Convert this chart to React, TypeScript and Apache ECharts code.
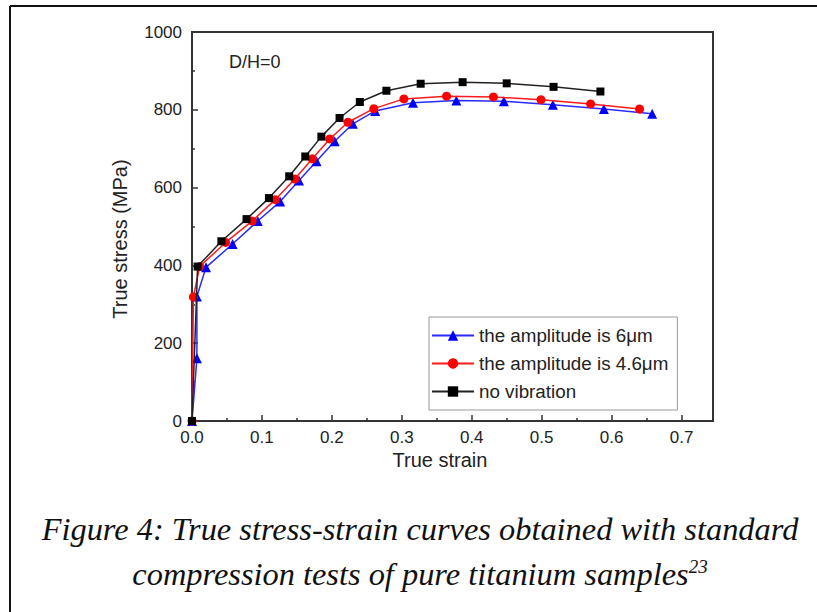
import React, { useEffect, useRef } from "react";
import * as echarts from "echarts";

// ---- data ----
const blueStrain = [0, 0.007, 0.007, 0.02, 0.058, 0.094, 0.126, 0.153, 0.178, 0.204, 0.23, 0.262, 0.316, 0.378, 0.446, 0.516, 0.589, 0.658];
const blueStress = [0, 161, 320, 395, 455, 514, 564, 618, 668, 719, 764, 797, 818, 824, 822, 813, 802, 790];

const redStrain = [0, 0.002, 0.011, 0.048, 0.086, 0.119, 0.147, 0.172, 0.197, 0.223, 0.26, 0.303, 0.364, 0.431, 0.499, 0.57, 0.64];
const redStress = [0, 319, 397, 459, 514, 569, 622, 674, 725, 768, 803, 828, 835, 833, 826, 815, 802];

const blackStrain = [0, 0.008, 0.042, 0.078, 0.11, 0.139, 0.162, 0.185, 0.211, 0.24, 0.278, 0.327, 0.387, 0.45, 0.517, 0.584];
const blackStress = [0, 397, 462, 519, 573, 629, 680, 731, 779, 820, 849, 867, 871, 868, 859, 847];

const seriesNames = ["the amplitude is 6\u03bcm", "the amplitude is 4.6\u03bcm", "no vibration"];
const annotation = "D/H=0";
const xAxisName = "True strain";
const yAxisName = "True stress (MPa)";
const captionLine1 = "Figure 4: True stress-strain curves obtained with standard";
const captionLine2 = "compression tests of pure titanium samples";
const captionSup = "23";

const pairs = (xs: number[], ys: number[]) => xs.map((x, i) => [x, ys[i]]);

const SANS = "Liberation Sans, Arial, sans-serif";
const SERIF = "Liberation Serif, Times New Roman, serif";

export default function App() {
  const ref = useRef<HTMLDivElement>(null);
  useEffect(() => {
    if (!ref.current) return;
    const chart = echarts.init(ref.current, undefined, { renderer: "svg" });
    const axisLine = { show: true, lineStyle: { color: "#333", width: 2 } };
    const axisTick = { show: true, inside: true, length: 6, lineStyle: { color: "#333", width: 1.5 } };
    const minorTick = { show: true, splitNumber: 2, length: 3, lineStyle: { color: "#333", width: 1.5 } };
    chart.setOption({
      animation: false,
      backgroundColor: "#fff",
      grid: {
        left: 192,
        top: 32,
        right: 104,
        bottom: 191,
        show: true,
        borderColor: "#333",
        borderWidth: 2,
        containLabel: false,
      },
      xAxis: {
        type: "value",
        min: 0,
        max: 0.745,
        interval: 0.1,
        axisLine,
        axisTick,
        minorTick,
        splitLine: { show: false },
        axisLabel: {
          fontFamily: SANS,
          fontSize: 17,
          color: "#222",
          margin: 8,
          showMaxLabel: false,
          formatter: (v: number) => {
            const r = Math.round(v * 10);
            return Math.abs(v * 10 - r) < 1e-6 ? (r / 10).toFixed(1) : "";
          },
        },
      },
      yAxis: {
        type: "value",
        min: 0,
        max: 1000,
        interval: 200,
        axisLine,
        axisTick,
        minorTick,
        splitLine: { show: false },
        axisLabel: {
          fontFamily: SANS,
          fontSize: 17,
          color: "#222",
          margin: 10,
          formatter: (v: number) => String(v),
        },
      },
      legend: {
        orient: "vertical",
        left: 429,
        top: 317,
        data: seriesNames,
        backgroundColor: "#fff",
        borderColor: "#999",
        borderWidth: 1,
        padding: [9, 9, 9, 2],
        itemGap: 9,
        itemWidth: 42,
        itemHeight: 13,
        textStyle: { fontFamily: SANS, fontSize: 18.8, color: "#222" },
      },
      graphic: [
        { type: "line", shape: { x1: 10, y1: 6, x2: 817, y2: 6 }, style: { stroke: "#111", lineWidth: 2 } },
        { type: "line", shape: { x1: 10, y1: 6, x2: 10, y2: 612 }, style: { stroke: "#111", lineWidth: 2 } },
        {
          type: "text",
          left: 229,
          top: 53,
          style: { text: annotation, fontFamily: SANS, fontSize: 18, fill: "#222" },
        },
        {
          type: "text",
          x: 440,
          y: 460,
          style: {
            text: xAxisName,
            fontFamily: SANS,
            fontSize: 20,
            fill: "#222",
            align: "center",
            verticalAlign: "middle",
          },
        },
        {
          type: "text",
          x: 120,
          y: 239,
          rotation: Math.PI / 2,
          style: {
            text: yAxisName,
            fontFamily: SANS,
            fontSize: 20,
            fill: "#222",
            align: "center",
            verticalAlign: "middle",
          },
        },
        {
          type: "text",
          x: 420,
          y: 529,
          style: {
            text: captionLine1,
            fontFamily: SERIF,
            fontStyle: "italic",
            fontSize: 32.4,
            fill: "#111",
            align: "center",
            verticalAlign: "middle",
          },
        },
        {
          type: "text",
          x: 420,
          y: 573,
          style: {
            text: "{a|" + captionLine2 + "}{s|" + captionSup + "}",
            fontFamily: SERIF,
            fontStyle: "italic",
            fontSize: 32.4,
            fill: "#111",
            align: "center",
            verticalAlign: "middle",
            rich: {
              a: { fontFamily: SERIF, fontStyle: "italic", fontSize: 32.4, fill: "#111", verticalAlign: "bottom" },
              s: { fontFamily: SERIF, fontStyle: "italic", fontSize: 19, fill: "#111", verticalAlign: "top", padding: [0, 0, 14, 0] },
            },
          },
        },
      ],
      series: [
        {
          name: seriesNames[0],
          type: "line",
          data: pairs(blueStrain, blueStress),
          symbol: "triangle",
          symbolSize: 10,
          itemStyle: { color: "#0000ff" },
          lineStyle: { color: "#2a2aff", width: 1.5 },
          z: 3,
        },
        {
          name: seriesNames[1],
          type: "line",
          data: pairs(redStrain, redStress),
          symbol: "circle",
          symbolSize: 9,
          itemStyle: { color: "#ff0000" },
          lineStyle: { color: "#ff1a1a", width: 1.5 },
          z: 4,
        },
        {
          name: seriesNames[2],
          type: "line",
          data: pairs(blackStrain, blackStress),
          symbol: "rect",
          symbolSize: 8,
          itemStyle: { color: "#000" },
          lineStyle: { color: "#222", width: 1.5 },
          z: 5,
        },
      ],
    });
    return () => chart.dispose();
  }, []);
  return (
    <div
      ref={ref}
      style={{ position: "fixed", left: 0, top: 0, width: 817, height: 612, background: "#fff" }}
    />
  );
}
